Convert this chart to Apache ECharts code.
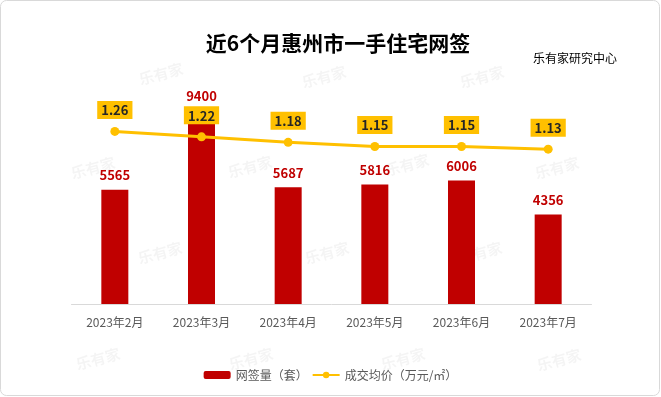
<!DOCTYPE html>
<html>
<head>
<meta charset="utf-8">
<script src="https://cdn.jsdelivr.net/npm/echarts@6/dist/echarts.min.js"></script>
<style>
  html, body { margin: 0; padding: 0; background: #fff; }
  #main { width: 661px; height: 397px; }
</style>
</head>
<body>
<div id="main"></div>
<script>
// 数据
var months = ['2023年2月', '2023年3月', '2023年4月', '2023年5月', '2023年6月', '2023年7月'];
var signCount = [5565, 9400, 5687, 5816, 6006, 4356];
var avgPrice = [1.26, 1.22, 1.18, 1.15, 1.15, 1.13];

var font = '"Noto Sans CJK SC", "Noto Sans", sans-serif';

// 水印位置
var marks = [
  [161, 74], [324, 77], [482, 77],
  [93, 168], [250, 167], [407, 165], [557, 168],
  [160, 253], [327, 253], [480, 253],
  [98, 359], [251, 359], [403, 359], [559, 360]
];
var markGraphics = marks.map(function (p) {
  return {
    type: 'text',
    x: p[0], y: p[1],
    rotation: 0.26,
    z: -1,
    style: {
      text: '乐有家',
      fill: 'rgba(0,0,0,0.045)',
      font: 'bold 15px ' + font,
      textAlign: 'center',
      textVerticalAlign: 'middle'
    }
  };
});

var myChart = echarts.init(document.getElementById('main'));
myChart.setOption({
  animation: false,
  textStyle: { fontFamily: font },
  graphic: [
    {
      type: 'rect',
      shape: { x: 0.5, y: 0.5, width: 659, height: 395, r: 6 },
      style: { fill: 'none', stroke: '#d9d9d9', lineWidth: 1 },
      z: -2
    },
    {
      type: 'text',
      x: 338, y: 43,
      style: {
        text: '近6个月惠州市一手住宅网签',
        fill: '#000',
        font: 'bold 21px ' + font,
        textAlign: 'center',
        textVerticalAlign: 'middle'
      }
    },
    {
      type: 'text',
      x: 533, y: 58,
      style: {
        text: '乐有家研究中心',
        fill: '#000',
        font: '12px ' + font,
        textAlign: 'left',
        textVerticalAlign: 'middle'
      }
    }
  ].concat(markGraphics),
  legend: {
    left: 'center',
    top: 364,
    itemWidth: 27,
    itemHeight: 8,
    itemGap: 4,
    textStyle: { color: '#595959', fontSize: 12 },
    data: ['网签量（套）', '成交均价（万元/㎡）']
  },
  grid: { left: 71.5, right: 69.5, top: 98.5, bottom: 93 },
  xAxis: {
    type: 'category',
    data: months,
    axisLine: { lineStyle: { color: '#d9d9d9' } },
    axisTick: { length: 5, lineStyle: { color: '#d9d9d9' } },
    axisLabel: { color: '#595959', fontSize: 12, margin: 12 }
  },
  yAxis: [
    { type: 'value', min: 0, max: 10000, show: false, splitLine: { show: false } },
    { type: 'value', min: 0, max: 1.5, show: false, splitLine: { show: false } }
  ],
  series: [
    {
      name: '网签量（套）',
      type: 'bar',
      barWidth: 27,
      data: signCount,
      itemStyle: { color: '#C00000' },
      label: {
        show: true,
        position: 'top',
        distance: 8,
        color: '#C00000',
        fontWeight: 'bold',
        fontSize: 13
      }
    },
    {
      name: '成交均价（万元/㎡）',
      type: 'line',
      yAxisIndex: 1,
      data: avgPrice,
      symbol: 'circle',
      symbolSize: 9,
      z: 3,
      itemStyle: { color: '#FFC000' },
      lineStyle: { color: '#FFC000', width: 3 },
      label: {
        show: true,
        position: 'top',
        distance: 8,
        color: '#262626',
        fontWeight: 'bold',
        fontSize: 13,
        lineHeight: 13,
        backgroundColor: '#FFC000',
        padding: [3, 4, 2, 4],
        formatter: function (p) { return p.value.toFixed(2); }
      }
    }
  ]
});
</script>
</body>
</html>
